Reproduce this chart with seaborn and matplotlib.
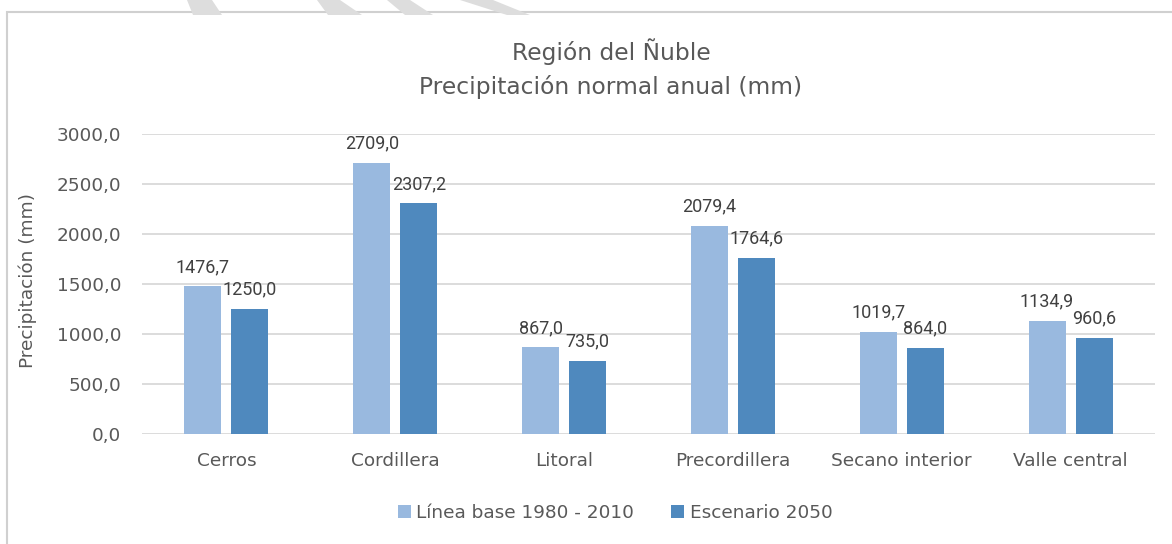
import matplotlib
matplotlib.use('Agg')
import matplotlib.pyplot as plt
from matplotlib.patches import Polygon, Rectangle
from matplotlib.ticker import FuncFormatter
import pandas as pd
import seaborn as sns

# Datos
zonas = ['Cerros', 'Cordillera', 'Litoral', 'Precordillera', 'Secano interior', 'Valle central']
series = ['Línea base 1980 - 2010', 'Escenario 2050']
linea_base = [1476.7, 2709.0, 867.0, 2079.4, 1019.7, 1134.9]
escenario_2050 = [1250.0, 2307.2, 735.0, 1764.6, 864.0, 960.6]
y_ticks = [0, 500, 1000, 1500, 2000, 2500, 3000]

colores = ['#99B9DF', '#4F89BE']
gris_texto = '#595959'

df = pd.DataFrame({
    'zona': zonas * 2,
    'valor': linea_base + escenario_2050,
    'serie': [series[0]] * len(zonas) + [series[1]] * len(zonas),
})

sns.set_theme(style='white')
plt.rcParams['font.family'] = ['DejaVu Sans']

W, H = 1172, 544
fig = plt.figure(figsize=(W / 100, H / 100), dpi=100)
ax = fig.add_axes([142 / W, 1 - 434 / H, (1155 - 142) / W, 300 / H])

sns.barplot(data=df, x='zona', y='valor', hue='serie', palette=colores,
            saturation=1, width=0.556, gap=0.21, linewidth=0, ax=ax, legend=True)

# Etiquetas de datos
for cont in ax.containers:
    vals = [b.get_height() for b in cont]
    ax.bar_label(cont, labels=[f'{v:.1f}'.replace('.', ',') for v in vals],
                 padding=7.5, fontsize=13, color='#404040', family='Roboto')

ax.set_ylim(0, 3000)
ax.set_yticks(y_ticks)
ax.yaxis.set_major_formatter(FuncFormatter(lambda v, p: f'{v:.1f}'.replace('.', ',')))
ax.grid(axis='y', color='#D9D9D9', linewidth=1.3)
ax.set_axisbelow(True)
for s in ax.spines.values():
    s.set_visible(False)
ax.tick_params(axis='both', length=0, labelsize=13.3, labelcolor=gris_texto)
ax.tick_params(axis='y', pad=15)
ax.tick_params(axis='x', pad=13)
ax.set_xlabel('')
ax.set_ylabel('')

# Titulo y etiqueta del eje
fig.text(611 / W, 1 - 52 / H, 'Región del Ñuble', ha='center', va='center',
         fontsize=16.8, color=gris_texto)
fig.text(611 / W, 1 - 87 / H, 'Precipitación normal anual (mm)', ha='center', va='center',
         fontsize=16.8, color=gris_texto)
fig.text(28 / W, 1 - 280 / H, 'Precipitación (mm)', rotation=90, ha='center', va='center',
         fontsize=13.3, color=gris_texto)

# Leyenda
handles, labels = ax.get_legend_handles_labels()
ax.legend_.remove()
fig.legend(handles, labels, loc='center', bbox_to_anchor=(615 / W, 1 - 513 / H),
           ncol=2, frameon=False, fontsize=13.3, labelcolor=gris_texto,
           handlelength=0.7, handleheight=0.7, handletextpad=0.3, columnspacing=2.0)

# Marco del grafico
fig.patches.append(Rectangle((7 / W, -0.1), 1.2, 1.1 - 12 / H, transform=fig.transFigure,
                             fill=False, edgecolor='#D0D0D0', linewidth=1.5))

# Marca de agua (franjas superiores)
franjas = [(187, 212, 193, 222), (317, 340, 328, 362), (387, 410, 405, 433), (460, 493, 507, 530)]
for x0, x1, x2, x3 in franjas:
    pts = [(x0 / W, 1.0), (x1 / W, 1.0), (x3 / W, 1 - 15 / H), (x2 / W, 1 - 15 / H)]
    fig.patches.append(Polygon(pts, closed=True, transform=fig.transFigure,
                               facecolor='#DDDDDD', edgecolor='none'))

fig.savefig('out.png', dpi=100)
